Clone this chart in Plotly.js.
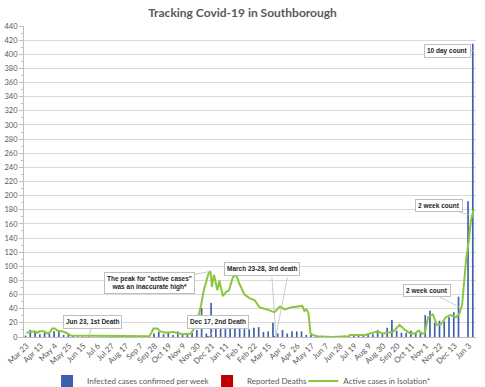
<!DOCTYPE html>
<html>
<head>
<meta charset="utf-8">
<script src="https://cdn.plot.ly/plotly-3.0.1.min.js"></script>
<style>html,body{margin:0;padding:0;background:#fff}#chart{width:485px;height:387px}</style>
</head>
<body>
<div id="chart"></div>
<script>
// Weekly categories (week starting dates)
const weekDates = [
"2020-03-23","2020-03-30","2020-04-06","2020-04-13","2020-04-20","2020-04-27","2020-05-04","2020-05-11","2020-05-18","2020-05-25",
"2020-06-01","2020-06-08","2020-06-15","2020-06-22","2020-06-29","2020-07-06","2020-07-13","2020-07-20","2020-07-27","2020-08-03",
"2020-08-10","2020-08-17","2020-08-24","2020-08-31","2020-09-07","2020-09-14","2020-09-21","2020-09-28","2020-10-05","2020-10-12",
"2020-10-19","2020-10-26","2020-11-02","2020-11-09","2020-11-16","2020-11-23","2020-11-30","2020-12-07","2020-12-14","2020-12-21",
"2020-12-28","2021-01-04","2021-01-11","2021-01-18","2021-01-25","2021-02-01","2021-02-08","2021-02-15","2021-02-22","2021-03-01",
"2021-03-08","2021-03-15","2021-03-22","2021-03-29","2021-04-05","2021-04-12","2021-04-19","2021-04-26","2021-05-03","2021-05-10",
"2021-05-17","2021-05-24","2021-05-31","2021-06-07","2021-06-14","2021-06-21","2021-06-28","2021-07-05","2021-07-12","2021-07-19",
"2021-07-26","2021-08-02","2021-08-09","2021-08-16","2021-08-23","2021-08-30","2021-09-06","2021-09-13","2021-09-20","2021-09-27",
"2021-10-04","2021-10-11","2021-10-18","2021-10-25","2021-11-01","2021-11-08","2021-11-15","2021-11-22","2021-11-29","2021-12-06",
"2021-12-13","2021-12-20","2021-12-27","2022-01-03","2022-01-10"];

// Infected cases confirmed per week
const weeklyCases = [
2,10,7,4,6,5,8,10,3,4,
2,1,1,0,0,0,1,0,0,0,
0,0,0,0,0,0,1,5,7,4,
6,3,8,5,4,6,10,41,5,48,
14,31,20,20,20,20,20,11,13,14,
7,8,20,5,10,5,8,8,8,3,
3,1,0,0,0,0,0,2,3,3,
4,4,5,4,10,5,13,24,9,6,
6,9,7,6,31,37,20,23,22,28,
35,57,0,192,415];

// Reported deaths
const deathDates = ["2020-06-22","2020-12-14","2021-03-22"];
const deaths = [1,1,1];

// Active cases in isolation
const activeDates = [
"2020-03-23","2020-03-31","2020-04-04","2020-04-08","2020-04-12","2020-04-18","2020-04-23","2020-04-27","2020-04-30","2020-05-04",
"2020-05-09","2020-05-15","2020-05-23","2020-05-27","2020-06-07","2020-06-19","2020-07-15","2020-08-15","2020-09-10","2020-09-20",
"2020-09-23","2020-09-26","2020-10-02","2020-10-06","2020-10-14","2020-10-25","2020-11-08","2020-11-20","2020-11-24","2020-11-30",
"2020-12-05","2020-12-09","2020-12-16","2020-12-19","2020-12-21","2020-12-24","2020-12-29","2021-01-01","2021-01-06","2021-01-11",
"2021-01-15","2021-01-21","2021-01-26","2021-01-30","2021-02-07","2021-02-14","2021-02-22","2021-03-01","2021-03-15","2021-03-23",
"2021-03-31","2021-04-07","2021-04-17","2021-04-28","2021-05-03","2021-05-06","2021-05-09","2021-05-12","2021-05-15","2021-05-18",
"2021-05-25","2021-06-15","2021-07-05","2021-07-10","2021-07-12","2021-07-20","2021-07-27","2021-08-04","2021-08-11","2021-08-22",
"2021-08-29","2021-09-13","2021-09-23","2021-10-01","2021-10-09","2021-10-16","2021-10-21","2021-10-26","2021-10-30","2021-11-04",
"2021-11-11","2021-11-17","2021-11-23","2021-11-30","2021-12-07","2021-12-15","2021-12-20","2021-12-24","2021-12-30","2022-01-03",
"2022-01-06","2022-01-10"];
const activeCases = [
6,8,8,6,8,8,5,7,12,12,
8,8,5,2,2,1,1,1,1,1,
6,12,12,8,6,7,4,5,11,25,
45,66,90,93,71,88,66,80,58,64,
66,85,87,76,60,55,52,42,38,35,
43,39,42,43,44,37,39,34,5,3,
1,0,0,1,3,3,4,3,5,8,
5,7,17,10,5,5,9,5,5,28,
32,17,18,28,31,28,33,45,110,137,
165,180];

// X tick labels (every third week)
const tickDates = [
"2020-03-23","2020-04-13","2020-05-04","2020-05-25","2020-06-15","2020-07-06","2020-07-27","2020-08-17","2020-09-07","2020-09-28",
"2020-10-19","2020-11-09","2020-11-30","2020-12-21","2021-01-11","2021-02-01","2021-02-22","2021-03-15","2021-04-05","2021-04-26",
"2021-05-17","2021-06-07","2021-06-28","2021-07-19","2021-08-09","2021-08-30","2021-09-20","2021-10-11","2021-11-01","2021-11-22",
"2021-12-13","2022-01-03"];
const tickLabels = [
"Mar 23","Apr 13","May 4","May 25","Jun 15","Jul 6","Jul 27","Aug 17","Sep 7","Sep 28",
"Oct 19","Nov 9","Nov 30","Dec 21","Jan 11","Feb 1","Feb 22","Mar 15","Apr 5","Apr 26",
"May 17","Jun 7","Jun 28","Jul 19","Aug 9","Aug 30","Sep 20","Oct 11","Nov 1","Nov 22",
"Dec 13","Jan 3"];

const gray = '#595959';
const boxFont = {family:'Liberation Sans, Arial, sans-serif', size:6.5, color:'#262626', weight:'bold'};
function box(x, y, text, ax, ay, show) {
  return {x:x, y:y, xref:'x', yref:'y', text:text, showarrow:true, arrowhead:0, arrowwidth:0.8,
    arrowcolor: show===false ? 'rgba(0,0,0,0)' : '#bfbfbf', ax:ax, ay:ay, bgcolor:'#ffffff',
    bordercolor:'#bfbfbf', borderwidth:1, borderpad:2, font:boxFont, standoff:0};
}
function leader(x, y, ax, ay) {
  return {x:x, y:y, xref:'x', yref:'y', text:' ', showarrow:true, arrowhead:0, arrowwidth:0.8,
    arrowcolor:'#bfbfbf', ax:ax, ay:ay, font:{size:1}, standoff:0};
}

const traces = [
  {type:'bar', name:'Infected cases confirmed per week', x:weekDates, y:weeklyCases,
   marker:{color:'#3d5fae', line:{width:0}}, legend:'legend'},
  {type:'bar', name:'Reported Deaths', x:deathDates, y:deaths,
   marker:{color:'#c00000', line:{width:0}}, legend:'legend2'},
  {type:'scatter', mode:'lines', name:'Active cases in Isolation*', x:activeDates, y:activeCases,
   line:{color:'#8cc63f', width:2}, legend:'legend3'}
];

const legFont = {family:'Lato, sans-serif', size:8, color:gray};
const legY = -0.1415;
const layout = {
  width:485, height:387,
  margin:{l:24, r:9, t:26, b:50, autoexpand:false},
  paper_bgcolor:'#fff', plot_bgcolor:'#fff',
  title:{text:'Tracking Covid-19 in Southborough', x:0.5, xanchor:'center', y:0.968, yanchor:'middle',
    font:{family:'Lato, sans-serif', size:12, color:gray, weight:'bold'}},
  barmode:'group', bargap:0.3, bargroupgap:0,
  xaxis:{type:'date', range:['2020-03-19 12:00','2022-01-13 12:00'], tickmode:'array',
    tickvals:tickDates, ticktext:tickLabels, tickangle:-45, tickfont:{family:'Lato, sans-serif', size:8, color:gray},
    showgrid:false, showline:true, linecolor:'#bfbfbf', linewidth:1, ticks:'', zeroline:false, automargin:false, fixedrange:true},
  yaxis:{range:[0,440], dtick:20, tickfont:{family:'Lato, sans-serif', size:7.5, color:gray},
    showgrid:true, gridcolor:'#d9d9d9', gridwidth:1, showline:true, linecolor:'#bfbfbf', linewidth:1,
    ticks:'outside', ticklen:4, tickcolor:'#bfbfbf', zeroline:false, automargin:false,
    minor:{dtick:10, ticks:'outside', ticklen:2, tickcolor:'#bfbfbf', showgrid:false}},
  showlegend:true,
  legend:{orientation:'h', x:0.051, xanchor:'left', y:legY, yanchor:'middle', font:legFont, bgcolor:'rgba(0,0,0,0)'},
  legend2:{orientation:'h', x:0.405, xanchor:'left', y:legY, yanchor:'middle', font:legFont, bgcolor:'rgba(0,0,0,0)'},
  legend3:{orientation:'h', x:0.618, xanchor:'left', y:legY, yanchor:'middle', font:legFont, bgcolor:'rgba(0,0,0,0)'},
  annotations:[
    box('2020-06-23', 0, 'Jun 23, 1st Death', 4, -15),
    box('2020-12-19', 93, 'The peak for "active cases"<br>was an inaccurate high*', -61, 12),
    box('2020-12-17', 0, 'Dec 17, 2nd Death', 9, -15),
    box('2021-03-25', 1, 'March 23-28, 3rd death', -14, -67, false),
    leader('2021-03-25', 1, -4, -61),
    leader('2021-03-25', 1, 12, -61),
    box('2021-12-20', 42, '2 week count', -32, -17),
    box('2022-01-05', 172, '2 week count', -31, -10),
    box('2022-01-10', 405, '10 day count', -26, 0)
  ]
};

Plotly.newPlot('chart', traces, layout, {displayModeBar:false, staticPlot:true});
</script>
</body>
</html>
